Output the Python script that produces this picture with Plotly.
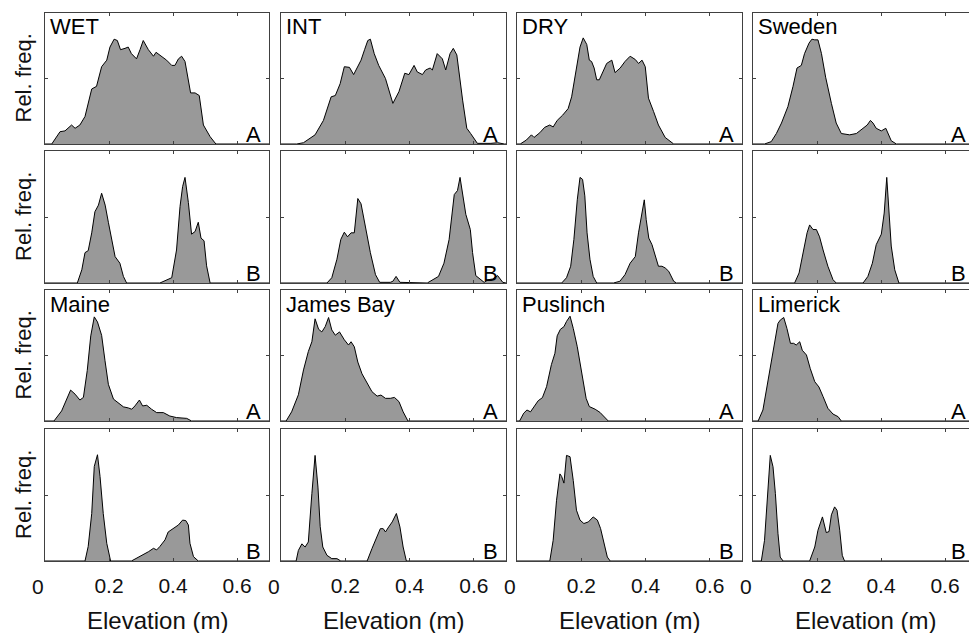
import plotly.graph_objects as go

# ---------------- data (elevation in m, relative frequency scaled 0-1) ----------------
wet_a_x = [0.0, 0.021, 0.047, 0.0625, 0.083, 0.094, 0.109, 0.125, 0.146, 0.161, 0.177, 0.193, 0.203, 0.216, 0.226, 0.236, 0.25, 0.26, 0.27, 0.286, 0.297, 0.307, 0.323, 0.339, 0.347, 0.359, 0.38, 0.396, 0.406, 0.417, 0.427, 0.4375, 0.455, 0.469, 0.482, 0.495, 0.516, 0.534, 0.7]
wet_a_y = [0.0, 0.0, 0.094, 0.10, 0.145, 0.12, 0.145, 0.21, 0.42, 0.44, 0.59, 0.64, 0.74, 0.80, 0.79, 0.72, 0.73, 0.74, 0.69, 0.65, 0.72, 0.79, 0.72, 0.67, 0.70, 0.68, 0.64, 0.60, 0.60, 0.65, 0.67, 0.63, 0.39, 0.39, 0.37, 0.145, 0.056, 0.0, 0.0]

wet_b_x = [0.0, 0.101, 0.115, 0.125, 0.135, 0.146, 0.156, 0.167, 0.177, 0.188, 0.198, 0.208, 0.219, 0.234, 0.245, 0.255, 0.359, 0.396, 0.411, 0.422, 0.43, 0.4375, 0.448, 0.458, 0.469, 0.479, 0.4875, 0.497, 0.505, 0.516, 0.7]
wet_b_y = [0.0, 0.0, 0.10, 0.23, 0.245, 0.38, 0.54, 0.59, 0.68, 0.59, 0.46, 0.33, 0.20, 0.15, 0.05, 0.0, 0.0, 0.04, 0.25, 0.58, 0.73, 0.80, 0.61, 0.37, 0.39, 0.46, 0.34, 0.32, 0.13, 0.0, 0.0]

int_a_x = [0.0, 0.049, 0.07, 0.106, 0.132, 0.156, 0.169, 0.184, 0.197, 0.213, 0.226, 0.234, 0.249, 0.26, 0.27, 0.278, 0.29, 0.304, 0.325, 0.348, 0.367, 0.385, 0.398, 0.414, 0.424, 0.44, 0.45, 0.464, 0.471, 0.486, 0.502, 0.5125, 0.526, 0.536, 0.547, 0.565, 0.578, 0.59, 0.611, 0.653, 0.674, 0.695, 0.7]
int_a_y = [0.0, 0.0, 0.01, 0.07, 0.18, 0.36, 0.37, 0.46, 0.59, 0.585, 0.53, 0.565, 0.64, 0.72, 0.79, 0.80, 0.69, 0.60, 0.50, 0.31, 0.40, 0.54, 0.53, 0.60, 0.55, 0.53, 0.565, 0.58, 0.565, 0.69, 0.65, 0.565, 0.69, 0.73, 0.68, 0.335, 0.12, 0.08, 0.005, 0.005, 0.01, 0.0, 0.0]

int_b_x = [0.0, 0.143, 0.158, 0.174, 0.186, 0.197, 0.207, 0.218, 0.228, 0.239, 0.249, 0.2625, 0.278, 0.294, 0.307, 0.34, 0.348, 0.358, 0.37, 0.455, 0.49, 0.507, 0.523, 0.539, 0.549, 0.557, 0.568, 0.575, 0.589, 0.596, 0.606, 0.62, 0.632, 0.645, 0.658, 0.674, 0.69, 0.7]
int_b_y = [0.0, 0.0, 0.04, 0.18, 0.33, 0.385, 0.35, 0.38, 0.38, 0.64, 0.60, 0.43, 0.23, 0.063, 0.005, 0.005, 0.013, 0.05, 0.005, 0.0, 0.05, 0.15, 0.33, 0.67, 0.70, 0.80, 0.63, 0.52, 0.405, 0.23, 0.056, 0.025, 0.005, 0.025, 0.03, 0.056, 0.005, 0.0]

dry_a_x = [0.0, 0.01, 0.029, 0.045, 0.053, 0.071, 0.086, 0.102, 0.1125, 0.125, 0.142, 0.159, 0.17, 0.18, 0.1875, 0.196, 0.206, 0.217, 0.225, 0.232, 0.24, 0.248, 0.256, 0.269, 0.279, 0.295, 0.305, 0.321, 0.336, 0.352, 0.368, 0.378, 0.389, 0.399, 0.409, 0.425, 0.44, 0.461, 0.4875, 0.7]
dry_a_y = [0.0, 0.0, 0.03, 0.07, 0.05, 0.086, 0.127, 0.145, 0.13, 0.18, 0.22, 0.27, 0.36, 0.51, 0.63, 0.74, 0.81, 0.76, 0.64, 0.63, 0.58, 0.49, 0.49, 0.565, 0.615, 0.64, 0.545, 0.58, 0.63, 0.67, 0.645, 0.615, 0.64, 0.59, 0.35, 0.247, 0.145, 0.05, 0.0, 0.0]

dry_b_x = [0.0, 0.139, 0.154, 0.167, 0.177, 0.1875, 0.196, 0.204, 0.211, 0.218, 0.227, 0.237, 0.248, 0.3, 0.32, 0.336, 0.352, 0.368, 0.378, 0.389, 0.396, 0.402, 0.41, 0.42, 0.43, 0.44, 0.451, 0.461, 0.472, 0.4875, 0.496, 0.7]
dry_b_y = [0.0, 0.0, 0.04, 0.127, 0.33, 0.63, 0.80, 0.785, 0.66, 0.38, 0.18, 0.05, 0.0, 0.0, 0.013, 0.063, 0.15, 0.20, 0.38, 0.53, 0.63, 0.48, 0.34, 0.29, 0.20, 0.127, 0.127, 0.114, 0.089, 0.013, 0.0, 0.0]

swe_a_x = [0.0, 0.036, 0.057, 0.073, 0.089, 0.109, 0.125, 0.1375, 0.151, 0.161, 0.175, 0.184, 0.193, 0.203, 0.214, 0.227, 0.245, 0.26, 0.276, 0.302, 0.323, 0.344, 0.357, 0.367, 0.375, 0.385, 0.401, 0.415, 0.422, 0.432, 0.448, 0.7]
swe_a_y = [0.0, 0.0, 0.018, 0.08, 0.16, 0.285, 0.44, 0.58, 0.60, 0.69, 0.77, 0.80, 0.795, 0.795, 0.69, 0.51, 0.31, 0.16, 0.08, 0.07, 0.08, 0.12, 0.145, 0.18, 0.16, 0.12, 0.10, 0.12, 0.08, 0.025, 0.0, 0.0]

swe_b_x = [0.0, 0.13, 0.144, 0.161, 0.169, 0.177, 0.1875, 0.198, 0.208, 0.219, 0.234, 0.25, 0.26, 0.344, 0.359, 0.373, 0.385, 0.401, 0.41, 0.418, 0.425, 0.432, 0.443, 0.456, 0.7]
swe_b_y = [0.0, 0.0, 0.076, 0.27, 0.38, 0.44, 0.405, 0.405, 0.35, 0.25, 0.127, 0.025, 0.0, 0.0, 0.05, 0.15, 0.29, 0.37, 0.53, 0.80, 0.53, 0.28, 0.10, 0.0, 0.0]

mai_a_x = [0.0, 0.028, 0.052, 0.068, 0.08, 0.094, 0.109, 0.12, 0.132, 0.143, 0.154, 0.164, 0.177, 0.1875, 0.198, 0.214, 0.229, 0.245, 0.26, 0.271, 0.281, 0.295, 0.305, 0.318, 0.333, 0.349, 0.37, 0.39, 0.411, 0.443, 0.458, 0.7]
mai_a_y = [0.0, 0.0, 0.077, 0.167, 0.236, 0.205, 0.16, 0.18, 0.385, 0.65, 0.795, 0.756, 0.654, 0.46, 0.28, 0.167, 0.14, 0.108, 0.10, 0.09, 0.115, 0.16, 0.115, 0.12, 0.09, 0.064, 0.064, 0.038, 0.026, 0.02, 0.0, 0.0]

mai_b_x = [0.0, 0.125, 0.135, 0.146, 0.154, 0.164, 0.172, 0.182, 0.193, 0.205, 0.27, 0.286, 0.307, 0.323, 0.339, 0.349, 0.359, 0.375, 0.385, 0.401, 0.417, 0.43, 0.44, 0.448, 0.453, 0.464, 0.479, 0.7]
mai_b_y = [0.0, 0.0, 0.11, 0.36, 0.716, 0.805, 0.64, 0.36, 0.134, 0.0, 0.0, 0.02, 0.046, 0.07, 0.096, 0.084, 0.11, 0.16, 0.22, 0.25, 0.273, 0.31, 0.306, 0.273, 0.134, 0.033, 0.0, 0.0]

jb_a_x = [0.0, 0.016, 0.033, 0.054, 0.07, 0.085, 0.096, 0.106, 0.117, 0.127, 0.1375, 0.148, 0.158, 0.169, 0.182, 0.197, 0.21, 0.218, 0.228, 0.239, 0.252, 0.268, 0.283, 0.299, 0.311, 0.325, 0.34, 0.353, 0.367, 0.38, 0.395, 0.7]
jb_a_y = [0.0, 0.0, 0.07, 0.20, 0.39, 0.53, 0.605, 0.78, 0.70, 0.68, 0.72, 0.79, 0.695, 0.655, 0.68, 0.62, 0.58, 0.605, 0.567, 0.45, 0.36, 0.29, 0.224, 0.19, 0.198, 0.173, 0.173, 0.18, 0.148, 0.07, 0.0, 0.0]

jb_b_x = [0.0, 0.047, 0.054, 0.065, 0.075, 0.085, 0.096, 0.106, 0.115, 0.122, 0.13, 0.143, 0.158, 0.174, 0.186, 0.268, 0.283, 0.297, 0.309, 0.318, 0.325, 0.335, 0.346, 0.359, 0.37, 0.38, 0.39, 0.7]
jb_b_y = [0.0, 0.0, 0.08, 0.13, 0.106, 0.144, 0.51, 0.80, 0.56, 0.26, 0.106, 0.043, 0.018, 0.018, 0.0, 0.0, 0.094, 0.17, 0.245, 0.245, 0.22, 0.258, 0.296, 0.36, 0.258, 0.106, 0.0, 0.0]

pus_a_x = [0.0, 0.008, 0.021, 0.031, 0.042, 0.055, 0.066, 0.079, 0.092, 0.107, 0.118, 0.125, 0.135, 0.146, 0.154, 0.165, 0.175, 0.1875, 0.201, 0.215, 0.225, 0.243, 0.258, 0.274, 0.284, 0.7]
pus_a_y = [0.0, 0.0, 0.06, 0.084, 0.07, 0.115, 0.155, 0.178, 0.262, 0.43, 0.517, 0.65, 0.70, 0.72, 0.76, 0.80, 0.707, 0.567, 0.364, 0.173, 0.11, 0.09, 0.066, 0.025, 0.0, 0.0]

pus_b_x = [0.0, 0.102, 0.1125, 0.123, 0.1335, 0.139, 0.146, 0.154, 0.165, 0.175, 0.185, 0.196, 0.208, 0.222, 0.237, 0.25, 0.26, 0.271, 0.281, 0.29, 0.7]
pus_b_y = [0.0, 0.0, 0.157, 0.46, 0.66, 0.64, 0.59, 0.80, 0.79, 0.61, 0.385, 0.31, 0.284, 0.296, 0.334, 0.31, 0.246, 0.12, 0.03, 0.0, 0.0]

lim_a_x = [0.0, 0.016, 0.031, 0.044, 0.057, 0.068, 0.078, 0.085, 0.096, 0.106, 0.117, 0.127, 0.135, 0.146, 0.154, 0.167, 0.179, 0.193, 0.206, 0.219, 0.234, 0.25, 0.266, 0.276, 0.7]
lim_a_y = [0.0, 0.0, 0.084, 0.26, 0.465, 0.605, 0.745, 0.77, 0.79, 0.707, 0.593, 0.593, 0.58, 0.605, 0.54, 0.504, 0.40, 0.30, 0.26, 0.186, 0.097, 0.053, 0.033, 0.0, 0.0]

lim_b_x = [0.0, 0.026, 0.036, 0.044, 0.054, 0.0625, 0.07, 0.078, 0.085, 0.094, 0.177, 0.193, 0.203, 0.217, 0.229, 0.2375, 0.245, 0.255, 0.2625, 0.271, 0.279, 0.286, 0.7]
lim_b_y = [0.0, 0.0, 0.157, 0.46, 0.80, 0.714, 0.51, 0.21, 0.03, 0.0, 0.0, 0.106, 0.233, 0.334, 0.215, 0.223, 0.35, 0.41, 0.385, 0.233, 0.043, 0.0, 0.0]

site_names = [["WET", "INT", "DRY", "Sweden"], ["Maine", "James Bay", "Puslinch", "Limerick"]]
panel_letters = ["A", "B"]
x_tick_vals = [0, 0.2, 0.4, 0.6]
x_tick_text = ["", "0.2", "0.4", "0.6"]
x_title = "Elevation (m)"
y_title = "Rel. freq."

series = [
    [(wet_a_x, wet_a_y), (int_a_x, int_a_y), (dry_a_x, dry_a_y), (swe_a_x, swe_a_y)],
    [(wet_b_x, wet_b_y), (int_b_x, int_b_y), (dry_b_x, dry_b_y), (swe_b_x, swe_b_y)],
    [(mai_a_x, mai_a_y), (jb_a_x, jb_a_y), (pus_a_x, pus_a_y), (lim_a_x, lim_a_y)],
    [(mai_b_x, mai_b_y), (jb_b_x, jb_b_y), (pus_b_x, pus_b_y), (lim_b_x, lim_b_y)],
]

# ---------------- layout geometry (screen pixels; body margin removed below) ----------------
W, H = 969, 633
col_px = [(45, 269), (281, 506), (517, 742), (753, 969)]
col_virtual_right = [269, 506, 742, 977]
row_px = [(13, 144), (151, 283), (290, 421), (429, 561)]
FONT = "Arial, Liberation Sans, sans-serif"
LINE_C = "#404040"
TXT_C = "#111111"


def px_x(p):
    return p / W


def px_y(p):
    return 1 - p / H


fig = go.Figure()
layout = dict(
    width=W, height=H, margin=dict(l=0, r=0, t=0, b=0), autosize=False,
    plot_bgcolor="white", paper_bgcolor="white", showlegend=False,
    font=dict(family=FONT, color=TXT_C),
)
annotations = []

for r in range(4):
    for c in range(4):
        idx = r * 4 + c + 1
        sfx = "" if idx == 1 else str(idx)
        xs, ys = series[r][c]
        fig.add_trace(go.Scatter(
            x=xs, y=ys, mode="lines", fill="tozeroy",
            fillcolor="#999999", line=dict(color="black", width=1),
            xaxis="x" + sfx, yaxis="y" + sfx, hoverinfo="skip",
        ))
        l, rr = col_px[c]
        t, b = row_px[r]
        xmax = 0.7 * (rr - l) / (col_virtual_right[c] - l)
        last_row = (r == 3)
        layout["xaxis" + sfx] = dict(
            domain=[px_x(l), px_x(rr)], anchor="y" + sfx, range=[0, xmax],
            showgrid=False, zeroline=False, showline=True, linecolor=LINE_C, linewidth=1,
            mirror="ticks", ticks="inside", ticklen=3, tickcolor=LINE_C,
            tickvals=x_tick_vals, ticktext=x_tick_text if last_row else ["", "", "", ""],
            showticklabels=last_row, tickfont=dict(size=21, color=TXT_C, family=FONT),
            ticklabelstandoff=6, fixedrange=True,
        )
        layout["yaxis" + sfx] = dict(
            domain=[px_y(b), px_y(t)], anchor="x" + sfx, range=[0, 1],
            showgrid=False, zeroline=False, showline=True, linecolor=LINE_C, linewidth=1,
            mirror=("ticks" if c < 3 else False), ticks="inside", ticklen=3, tickcolor=LINE_C,
            tickvals=[0.5], showticklabels=False, fixedrange=True,
        )
        # site name (top-left) on A panels
        if r % 2 == 0:
            annotations.append(dict(
                text=site_names[r // 2][c], xref="paper", yref="paper",
                x=px_x(l + 3), y=px_y(t + 14), xanchor="left", yanchor="middle",
                showarrow=False, font=dict(size=22, family=FONT, color="black"),
            ))
        # A / B letter (bottom-right)
        right_edge = min(col_virtual_right[c] - 6, 968)
        annotations.append(dict(
            text=panel_letters[r % 2], xref="paper", yref="paper",
            x=px_x(right_edge), y=px_y(b - 10), xanchor="right", yanchor="middle",
            showarrow=False, font=dict(size=22, family=FONT, color="black"),
        ))

# y titles
for r in range(4):
    t, b = row_px[r]
    annotations.append(dict(
        text=y_title, xref="paper", yref="paper", x=px_x(23), y=px_y((t + b) / 2),
        xanchor="center", yanchor="middle", textangle=-90, showarrow=False,
        font=dict(size=22, family=FONT, color=TXT_C),
    ))
# x titles and "0" labels
for c in range(4):
    l = col_px[c][0]
    annotations.append(dict(
        text=x_title, xref="paper", yref="paper",
        x=px_x((l + col_virtual_right[c]) / 2), y=px_y(620),
        xanchor="center", yanchor="middle", showarrow=False,
        font=dict(size=24, family=FONT, color=TXT_C),
    ))
    annotations.append(dict(
        text="0", xref="paper", yref="paper", x=px_x(l - 7), y=px_y(586),
        xanchor="center", yanchor="middle", showarrow=False,
        font=dict(size=21, family=FONT, color=TXT_C),
    ))

layout["annotations"] = annotations
fig.update_layout(**layout)
fig.write_html(
    "out.html",
    config={"displayModeBar": False, "staticPlot": True},
    post_script="document.body.style.margin='0';document.body.style.overflow='hidden';",
)
